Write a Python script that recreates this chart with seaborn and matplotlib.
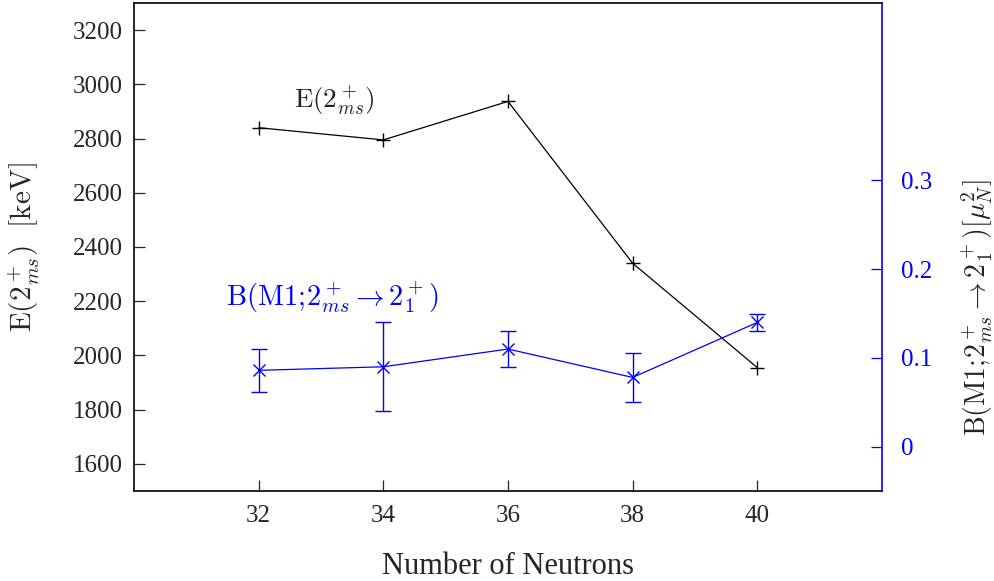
import matplotlib
matplotlib.use("Agg")
import matplotlib.pyplot as plt
import seaborn as sns
import pandas as pd

neutrons = [32, 34, 36, 38, 40]
energy_kev = [2840, 2795, 2937, 2340, 1955]
bm1 = [0.086, 0.090, 0.110, 0.078, 0.140]
bm1_err = [0.024, 0.050, 0.020, 0.028, 0.010]
x_ticks = [32, 34, 36, 38, 40]
left_ticks = [1600, 1800, 2000, 2200, 2400, 2600, 2800, 3000, 3200]
right_ticks = [0, 0.1, 0.2, 0.3]
right_tick_labels = ["0", "0.1", "0.2", "0.3"]

sns.set_style("white")
plt.rcParams['font.family'] = ['Liberation Serif', 'DejaVu Serif']
plt.rcParams['mathtext.fontset'] = 'cm'
plt.rcParams['font.size'] = 18

BLUE = '#0000ff'

df_e = pd.DataFrame({"N": neutrons, "E": energy_kev})
df_b = pd.DataFrame({"N": neutrons, "B": bm1, "err": bm1_err})

fig = plt.figure(figsize=(9.94, 5.81), dpi=100)
ax = fig.add_axes([134/994, 90/581, (882-134)/994, (491-3)/581])
ax2 = ax.twinx()

sns.lineplot(data=df_e, x="N", y="E", ax=ax, color='black', marker='+',
             markersize=10, markeredgewidth=1.0, markeredgecolor='black',
             linewidth=0.9, sort=False)
sns.lineplot(data=df_b, x="N", y="B", ax=ax2, color=BLUE, marker='x',
             markersize=9, markeredgewidth=1.0, markeredgecolor=BLUE,
             linewidth=0.9, sort=False)
ax2.errorbar(df_b["N"], df_b["B"], yerr=df_b["err"], fmt='none',
             ecolor=BLUE, elinewidth=1.0, capsize=6, capthick=1.0)

ax.set_xlim(30, 42)
ax.set_ylim(1500, 3300)
ax2.set_ylim(-0.05, 0.5)
ax.set_xticks(x_ticks)
ax.set_yticks(left_ticks)
ax2.set_yticks(right_ticks)
ax2.set_yticklabels(right_tick_labels)

ax.tick_params(axis='both', direction='in', length=8, width=0.9, labelsize=18,
               bottom=True, left=True, top=False, right=False)
ax.tick_params(axis='x', pad=10)
ax.tick_params(axis='y', pad=8)
ax2.tick_params(axis='y', direction='in', length=8, width=0.9, labelsize=18,
                right=True, left=False, colors=BLUE, labelcolor=BLUE, pad=14)

for s in ax.spines.values():
    s.set_linewidth(1.2)
    s.set_color('black')
ax.spines['right'].set_visible(False)
for k, s in ax2.spines.items():
    s.set_visible(k == 'right')
ax2.spines['right'].set_color(BLUE)
ax2.spines['right'].set_linewidth(1.2)

ax.set_xlabel("Number of Neutrons", fontsize=22, labelpad=18)
ax.set_ylabel(r"$\mathrm{E}(2^+_{ms})\ \ [\mathrm{keV}]$", fontsize=21, labelpad=22)
ax2.set_ylabel(r"$\mathrm{B}(\mathrm{M1};\!2^+_{ms}\rightarrow 2^+_1)[\mu^2_N]$",
               fontsize=20, color='#222222')
ax2.yaxis.set_label_coords(1.103, 0.375)

ax.text(33.22, 2940, r"$\mathrm{E}(2^+_{ms})$", fontsize=19.5, ha='center', va='center',
        color='#222222')
ax2.text(33.19, 0.168, r"$\mathrm{B}(\mathrm{M1};\!2^+_{ms}\rightarrow 2^+_1)$", fontsize=20.5,
         ha='center', va='center', color=BLUE)

fig.savefig("out.png", dpi=100)
